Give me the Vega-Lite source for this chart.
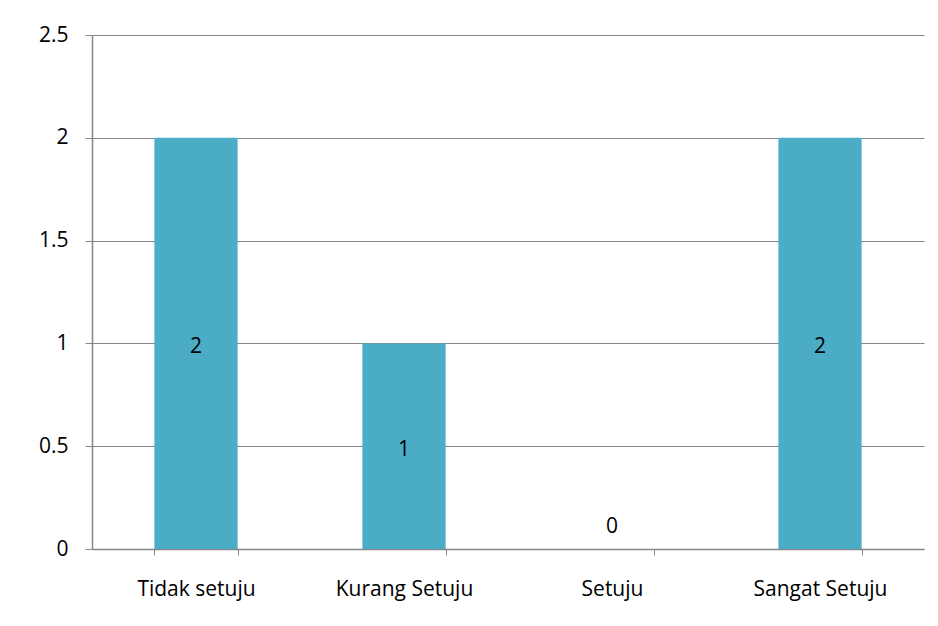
{
  "$schema": "https://vega.github.io/schema/vega-lite/v6.json",
  "autosize": {"type": "none"},
  "width": 832,
  "height": 514,
  "padding": {"left": 92, "top": 35, "right": 14, "bottom": 77},
  "background": "white",
  "config": {
    "view": {"stroke": null},
    "font": "Open Sans",
    "axis": {"labelFont": "Open Sans", "labelColor": "black", "labelFontSize": 21}
  },
  "data": {
    "values": [
      {"kategori": "Tidak setuju", "jumlah": 2},
      {"kategori": "Kurang Setuju", "jumlah": 1},
      {"kategori": "Setuju", "jumlah": 0},
      {"kategori": "Sangat Setuju", "jumlah": 2}
    ]
  },
  "encoding": {
    "x": {
      "field": "kategori",
      "type": "nominal",
      "sort": null,
      "scale": {"paddingInner": 0.6, "paddingOuter": 0.3},
      "axis": {
        "title": null,
        "labelAngle": 0,
        "tickBand": "extent",
        "tickSize": 6,
        "tickColor": "#868686",
        "domainColor": "#868686",
        "domainWidth": 1.5,
        "labelPadding": 23,
        "grid": false
      }
    }
  },
  "layer": [
    {
      "mark": {"type": "bar", "color": "#4BACC6"},
      "encoding": {
        "y": {
          "field": "jumlah",
          "type": "quantitative",
          "scale": {"domain": [0, 2.5], "nice": false},
          "axis": {
            "title": null,
            "values": [0, 0.5, 1, 1.5, 2, 2.5],
            "format": "~g",
            "tickSize": 7,
            "labelPadding": 17,
            "tickColor": "#868686",
            "domainColor": "#868686",
            "domainWidth": 1.5,
            "gridColor": "#868686",
            "gridWidth": 1.2
          }
        }
      }
    },
    {
      "transform": [
        {"filter": "datum.jumlah > 0"},
        {"calculate": "datum.jumlah / 2", "as": "tengah"}
      ],
      "mark": {"type": "text", "fontSize": 21, "color": "black", "baseline": "middle", "dy": 4},
      "encoding": {
        "y": {"field": "tengah", "type": "quantitative"},
        "text": {"field": "jumlah", "type": "quantitative"}
      }
    },
    {
      "transform": [{"filter": "datum.jumlah == 0"}],
      "mark": {"type": "text", "fontSize": 21, "color": "black", "baseline": "middle", "dy": -22},
      "encoding": {
        "y": {"field": "jumlah", "type": "quantitative"},
        "text": {"field": "jumlah", "type": "quantitative"}
      }
    }
  ]
}
